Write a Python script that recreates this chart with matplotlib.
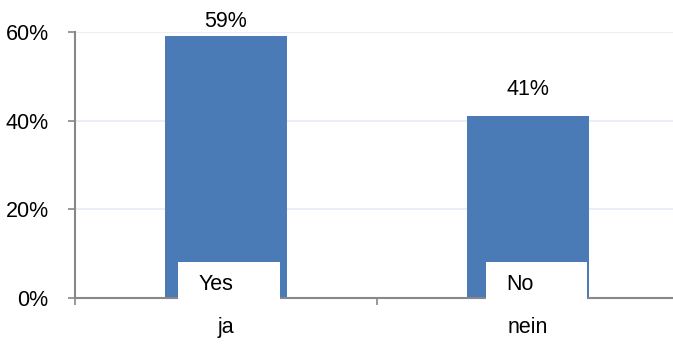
import matplotlib
matplotlib.use("Agg")
import matplotlib.pyplot as plt
from matplotlib.patches import Rectangle
from matplotlib.ticker import FuncFormatter, FixedLocator

categories = ["ja", "nein"]
values = [0.59, 0.41]
box_labels = ["Yes", "No"]
yticks = [0.0, 0.2, 0.4, 0.6]

plt.rcParams['font.family'] = ['Liberation Sans', 'DejaVu Sans']

W, H = 673, 347
fig = plt.figure(figsize=(W / 100, H / 100), dpi=100)
ax = fig.add_axes([75 / W, (H - 298) / H, 604 / W, 266 / H])

FS = 15.5
bar_color = "#4A7BB7"
x = list(range(len(categories)))
bars = ax.bar(x, values, width=0.404, color=bar_color, zorder=2)

ax.set_xlim(-0.5, len(categories) - 0.5)
ax.set_ylim(0, 0.6)

ax.yaxis.set_major_locator(FixedLocator(yticks))
ax.yaxis.set_major_formatter(FuncFormatter(lambda v, p: f"{v*100:.0f}%"))
ax.set_xticks(x)
ax.set_xticklabels(categories)
ax.xaxis.set_minor_locator(FixedLocator([i - 0.5 for i in range(len(categories) + 1)]))
ax.tick_params(axis='x', which='major', length=0, pad=14, labelsize=FS, colors='black')
ax.tick_params(axis='x', which='minor', length=5, width=1.2, color='#888888', direction='out')
ax.tick_params(axis='y', length=5, width=1.2, color='#888888', pad=14, labelsize=FS)

ax.grid(axis='y', color='#E6ECF6', linewidth=1.2, zorder=0)
for s in ['top', 'right']:
    ax.spines[s].set_visible(False)
for s in ['left', 'bottom']:
    ax.spines[s].set_color('#888888')
    ax.spines[s].set_linewidth(1.5)
    ax.spines[s].set_zorder(3)

# value labels
label_offsets = [10.5, 19.5]
for b, v, off in zip(bars, values, label_offsets):
    ax.annotate(f"{v*100:.0f}%", (b.get_x() + b.get_width() / 2, v),
                xytext=(0, off), textcoords='offset points',
                ha='center', va='center', fontsize=FS)

# white label boxes over the bar bottoms
box_left = [-0.159, -0.139]
box_w = [0.338, 0.334]
for i, (lab, bl, bw) in enumerate(zip(box_labels, box_left, box_w)):
    r = Rectangle((i + bl, -0.006), bw, 0.087, facecolor='white', edgecolor='none',
                  zorder=4, clip_on=False)
    ax.add_patch(r)
    ax.text(i + bl + 0.068, 0.03, lab, ha='left', va='center', fontsize=FS, zorder=5)

fig.savefig("out.png", dpi=100)
